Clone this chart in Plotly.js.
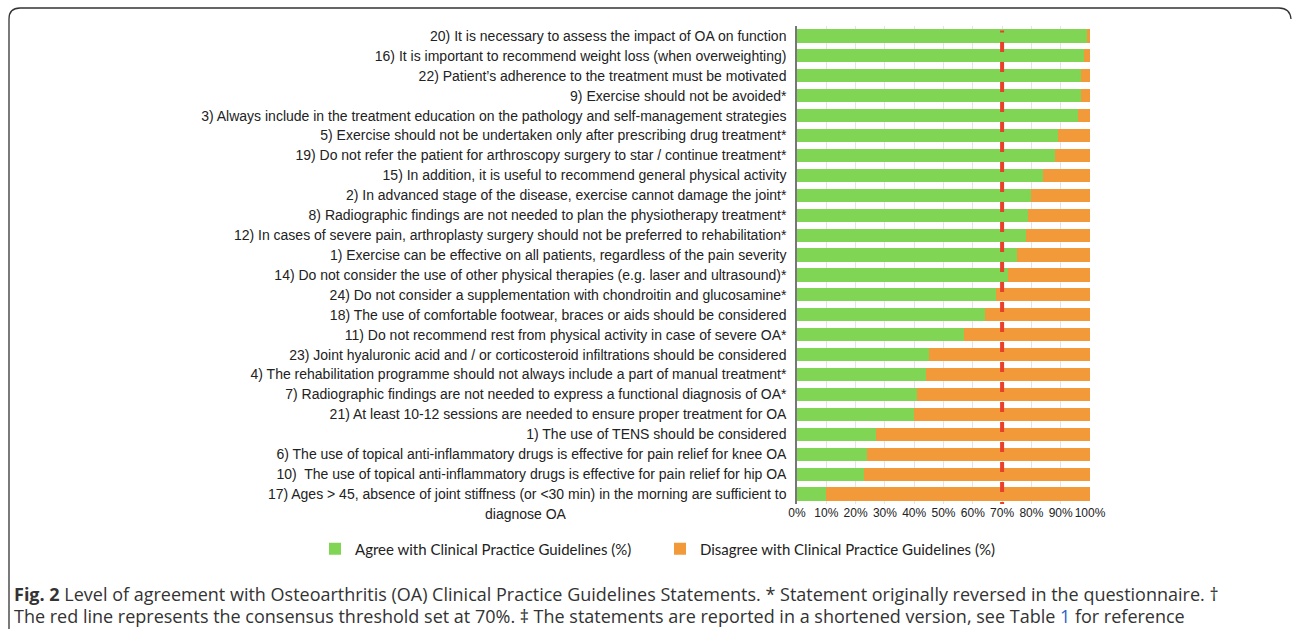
<!DOCTYPE html>
<html>
<head>
<meta charset="utf-8">
<script src="https://cdn.plot.ly/plotly-3.0.1.min.js"></script>
<style>html,body{margin:0;padding:0;background:#fff;}#chart{width:1292px;height:630px;}</style>
</head>
<body>
<div id="chart"></div>
<script>
// Statements, top to bottom as drawn
const statements = [
  "20) It is necessary to assess the impact of OA on function",
  "16) It is important to recommend weight loss (when overweighting)",
  "22) Patient\u2019s adherence to the treatment must be motivated",
  "9) Exercise should not be avoided*",
  "3) Always include in the treatment education on the pathology and self-management strategies",
  "5) Exercise should not be undertaken only after prescribing drug treatment*",
  "19) Do not refer the patient for arthroscopy surgery to star / continue treatment*",
  "15) In addition, it is useful to recommend general physical activity",
  "2) In advanced stage of the disease, exercise cannot damage the joint*",
  "8) Radiographic findings are not needed to plan the physiotherapy treatment*",
  "12) In cases of severe pain, arthroplasty surgery should not be preferred to rehabilitation*",
  "1) Exercise can be effective on all patients, regardless of the pain severity",
  "14) Do not consider the use of other physical therapies (e.g. laser and ultrasound)*",
  "24) Do not consider a supplementation with chondroitin and glucosamine*",
  "18) The use of comfortable footwear, braces or aids should be considered",
  "11) Do not recommend rest from physical activity in case of severe OA*",
  "23) Joint hyaluronic acid and / or corticosteroid infiltrations should be considered",
  "4) The rehabilitation programme should not always include a part of manual treatment*",
  "7) Radiographic findings are not needed to express a functional diagnosis of OA*",
  "21) At least 10-12 sessions are needed to ensure proper treatment for OA",
  "1) The use of TENS should be considered",
  "6) The use of topical anti-inflammatory drugs is effective for pain relief for knee OA",
  "10)\u00a0 The use of topical anti-inflammatory drugs is effective for pain relief for hip OA",
  "17) Ages > 45, absence of joint stiffness (or <30 min) in the morning are sufficient to"
];
const lastLabelContinuation = "diagnose OA";

const agree    = [99, 98, 97, 97, 96, 89, 88, 84, 80, 79, 78, 75, 72, 68, 64, 57, 45, 44, 41, 40, 27, 24, 23, 10];
const disagree = [ 1,  2,  3,  3,  4, 11, 12, 16, 20, 21, 22, 25, 28, 32, 36, 43, 55, 56, 59, 60, 73, 76, 77, 90];

const xTickVals = [0, 10, 20, 30, 40, 50, 60, 70, 80, 90, 100];
const xTickText = ["0%", "10%", "20%", "30%", "40%", "50%", "60%", "70%", "80%", "90%", "100%"];

const seriesNames = ["Agree with Clinical Practice Guidelines (%)", "Disagree with Clinical Practice Guidelines (%)"];
const consensusThreshold = 70;

const captionLine1 = "<b>Fig. 2</b> Level of agreement with Osteoarthritis (OA) Clinical Practice Guidelines Statements. * Statement originally reversed in the questionnaire. \u2020";
const captionLine2 = "The red line represents the consensus threshold set at 70%. \u2021 The statements are reported in a shortened version, see Table <span style='color:#2a62c9'>1</span> for reference";

// pixel -> paper helpers (layout only)
const W = 1292, H = 630;
const L = 797, R = 1090, T = 26, B = 504;
const px = x => (x - L) / (R - L);
const py = y => (B - y) / (B - T);

const esc = s => s.replace(/&/g, "&amp;").replace(/</g, "&lt;").replace(/>/g, "&gt;");

const traces = [
  {
    type: "bar", orientation: "h", name: seriesNames[0],
    y: statements, x: agree,
    marker: { color: "#80d654", line: { width: 0 } },
    hoverinfo: "x+y"
  },
  {
    type: "bar", orientation: "h", name: seriesNames[1],
    y: statements, x: disagree,
    marker: { color: "#f29a3a", line: { width: 0 } },
    hoverinfo: "x+y"
  }
];

const r = 11;
const frame = `M ${px(9)},${py(629)} Q ${px(9)},${py(629 - 3)} ${px(9)},${py(629 - r)} L ${px(9)},${py(8 + r)} Q ${px(9)},${py(8)} ${px(9 + r)},${py(8)} L ${px(1290 - r)},${py(8)} Q ${px(1290)},${py(8)} ${px(1291)},${py(8 + r)}`;

const labelFont = { size: 14, color: "#222", family: "Liberation Sans, Arial, sans-serif" };
const captionFont = { size: 18, color: "#333", family: "Open Sans, sans-serif" };

const layout = {
  width: W, height: H,
  margin: { l: L, r: W - R, t: T, b: H - B },
  paper_bgcolor: "#ffffff", plot_bgcolor: "#ffffff",
  barmode: "stack",
  bargap: 0.34,
  showlegend: true,
  font: { family: "Liberation Sans, Arial, sans-serif", color: "#222" },
  xaxis: {
    range: [0, 100], tickvals: xTickVals, ticktext: xTickText, tickangle: 0,
    showgrid: true, gridcolor: "#e3e3e3", gridwidth: 1,
    zeroline: false, showline: false, ticks: "",
    tickfont: { size: 12, color: "#222", family: "Liberation Sans, Arial, sans-serif" },
    fixedrange: true
  },
  yaxis: {
    type: "category", autorange: "reversed",
    tickvals: statements, ticktext: statements.map(esc),
    showgrid: false, zeroline: false,
    showline: true, linecolor: "#777", linewidth: 1.5,
    ticks: "", ticklabelstandoff: 6,
    tickfont: labelFont,
    fixedrange: true
  },
  legend: {
    orientation: "h", xref: "paper", yref: "paper",
    x: px(315), y: py(549), xanchor: "left", yanchor: "middle",
    entrywidth: 300, entrywidthmode: "pixels",
    font: { size: 15, color: "#222", family: "Lato, sans-serif" },
    traceorder: "normal", itemclick: false, itemdoubleclick: false
  },
  shapes: [
    {
      type: "line", xref: "x", yref: "paper",
      x0: consensusThreshold, x1: consensusThreshold, y0: py(42), y1: 0,
      line: { color: "#e8402a", width: 4, dash: "10px,10px" }, layer: "above"
    },
    {
      type: "line", xref: "x", yref: "paper",
      x0: consensusThreshold, x1: consensusThreshold, y0: py(30.5), y1: py(32.5),
      line: { color: "#e8402a", width: 4 }, layer: "above"
    },
    {
      type: "path", xref: "paper", yref: "paper", path: frame,
      line: { color: "#333", width: 1.3 }, layer: "above"
    }
  ],
  annotations: [
    {
      xref: "paper", yref: "y", x: px(526), y: statements[statements.length - 1],
      yshift: -20, xanchor: "center", yanchor: "middle", showarrow: false,
      text: lastLabelContinuation, font: labelFont
    },
    {
      xref: "paper", yref: "paper", x: px(12), y: py(594), xanchor: "left", yanchor: "middle",
      showarrow: false, align: "left", text: captionLine1, font: captionFont
    },
    {
      xref: "paper", yref: "paper", x: px(12), y: py(616), xanchor: "left", yanchor: "middle",
      showarrow: false, align: "left", text: captionLine2, font: captionFont
    }
  ]
};

Plotly.newPlot("chart", traces, layout, { displayModeBar: false });
</script>
</body>
</html>
